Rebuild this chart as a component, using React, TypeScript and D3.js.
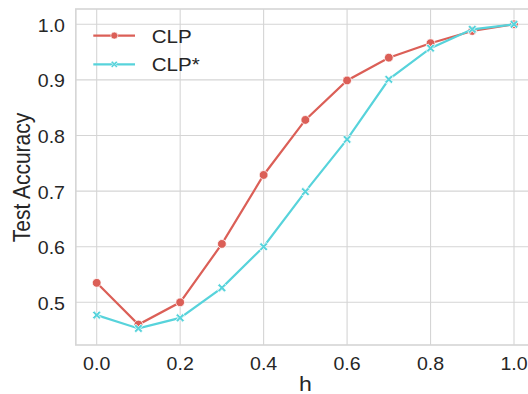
import React from "react";
import * as d3 from "d3";

const hValues = [0.0, 0.1, 0.2, 0.3, 0.4, 0.5, 0.6, 0.7, 0.8, 0.9, 1.0];
const clp = [0.535, 0.46, 0.5, 0.605, 0.729, 0.828, 0.899, 0.94, 0.966, 0.988, 1.0];
const clpStar = [0.477, 0.453, 0.472, 0.526, 0.6, 0.699, 0.793, 0.901, 0.957, 0.991, 1.0];
const xTicks = [0.0, 0.2, 0.4, 0.6, 0.8, 1.0];
const yTicks = [0.5, 0.6, 0.7, 0.8, 0.9, 1.0];
const seriesNames = ["CLP", "CLP*"];
const seriesColors = ["#db5f57", "#57d3db"];

const W = 528;
const H = 394;
const FONT = "'Liberation Sans', Arial, sans-serif";
const TICK_FS = 17.8;
const LABEL_FS = 21;
const LEGEND_FS = 18.7;
const SX = 1.1; // glyphs are drawn slightly wide
const GRID = "#d5d5d5";
const INK = "#262626";

// filled "X" marker centred at the origin
function xMarker(s: number) {
  const a = s, b = s * 0.42;
  const pts = [
    [-a, -a + b], [-a + b, -a], [0, -b], [a - b, -a], [a, -a + b], [b, 0],
    [a, a - b], [a - b, a], [0, b], [-a + b, a], [-a, a - b], [-b, 0],
  ];
  return "M" + pts.map((p) => p.join(",")).join("L") + "Z";
}

function Label(props: { x: number; y: number; size: number; anchor?: string; rotate?: number; children: React.ReactNode }) {
  const { x, y, size, anchor = "start", rotate = 0, children } = props;
  return (
    <text
      transform={`translate(${x},${y}) scale(${SX},1)${rotate ? ` rotate(${rotate})` : ""}`}
      textAnchor={anchor}
      fontSize={size}
      fill={INK}
    >
      {children}
    </text>
  );
}

export default function App() {
  const x = d3.scaleLinear().domain([0, 1]).range([96.7, 514]);
  const y = d3.scaleLinear().domain([0.5, 1.0]).range([302.3, 24.3]);
  const left = x(-0.05);
  const right = x(1.05);
  const top = y(1.0275);
  const bottom = y(0.4232);

  const line = d3
    .line<number>()
    .x((_, i) => x(hValues[i]))
    .y((d) => y(d));

  const series = [clp, clpStar];

  return (
    <svg
      width={W}
      height={H}
      style={{ position: "absolute", left: 0, top: 0, background: "#fff" }}
      fontFamily={FONT}
    >
      <defs>
        <clipPath id="fig">
          <rect x={0} y={0} width={W} height={H} />
        </clipPath>
      </defs>
      <g clipPath="url(#fig)">
        {xTicks.map((t) => (
          <line key={"gx" + t} x1={x(t)} x2={x(t)} y1={top} y2={bottom} stroke={GRID} strokeWidth={1.1} />
        ))}
        {yTicks.map((t) => (
          <line key={"gy" + t} x1={left} x2={right} y1={y(t)} y2={y(t)} stroke={GRID} strokeWidth={1.1} />
        ))}
        <rect x={left} y={top} width={right - left} height={bottom - top} fill="none" stroke={GRID} strokeWidth={1.6} />

        {series.map((s, k) => (
          <g key={"s" + k}>
            <path d={line(s) || ""} fill="none" stroke={seriesColors[k]} strokeWidth={2.2} />
            {s.map((v, i) =>
              k === 0 ? (
                <circle key={i} cx={x(hValues[i])} cy={y(v)} r={4.4} fill={seriesColors[k]} stroke="#fff" strokeWidth={0.8} />
              ) : (
                <path
                  key={i}
                  d={xMarker(4.3)}
                  transform={`translate(${x(hValues[i])},${y(v)})`}
                  fill={seriesColors[k]}
                  stroke="#fff"
                  strokeWidth={0.8}
                />
              )
            )}
          </g>
        ))}

        {xTicks.map((t) => (
          <Label key={"tx" + t} x={x(t)} y={370} size={TICK_FS} anchor="middle">
            {d3.format(".1f")(t)}
          </Label>
        ))}
        {yTicks.map((t) => (
          <Label key={"ty" + t} x={65} y={y(t) + 7.5} size={TICK_FS} anchor="end">
            {d3.format(".1f")(t)}
          </Label>
        ))}
        <Label x={305.5} y={390.5} size={LABEL_FS} anchor="middle">
          h
        </Label>
        <Label x={30} y={177.5} size={LABEL_FS} anchor="middle" rotate={-90}>
          Test Accuracy
        </Label>

        {seriesNames.map((n, k) => {
          const ly = k === 0 ? 35.6 : 64.3;
          return (
            <g key={"l" + k}>
              <line x1={93.3} x2={135} y1={ly} y2={ly} stroke={seriesColors[k]} strokeWidth={2.2} />
              {k === 0 ? (
                <circle cx={114.3} cy={ly} r={3.5} fill={seriesColors[k]} stroke="#fff" strokeWidth={0.6} />
              ) : (
                <path d={xMarker(3.4)} transform={`translate(114.3,${ly})`} fill={seriesColors[k]} stroke="#fff" strokeWidth={0.6} />
              )}
              <Label x={151.7} y={ly + 7} size={LEGEND_FS}>
                {n}
              </Label>
            </g>
          );
        })}
      </g>
    </svg>
  );
}
